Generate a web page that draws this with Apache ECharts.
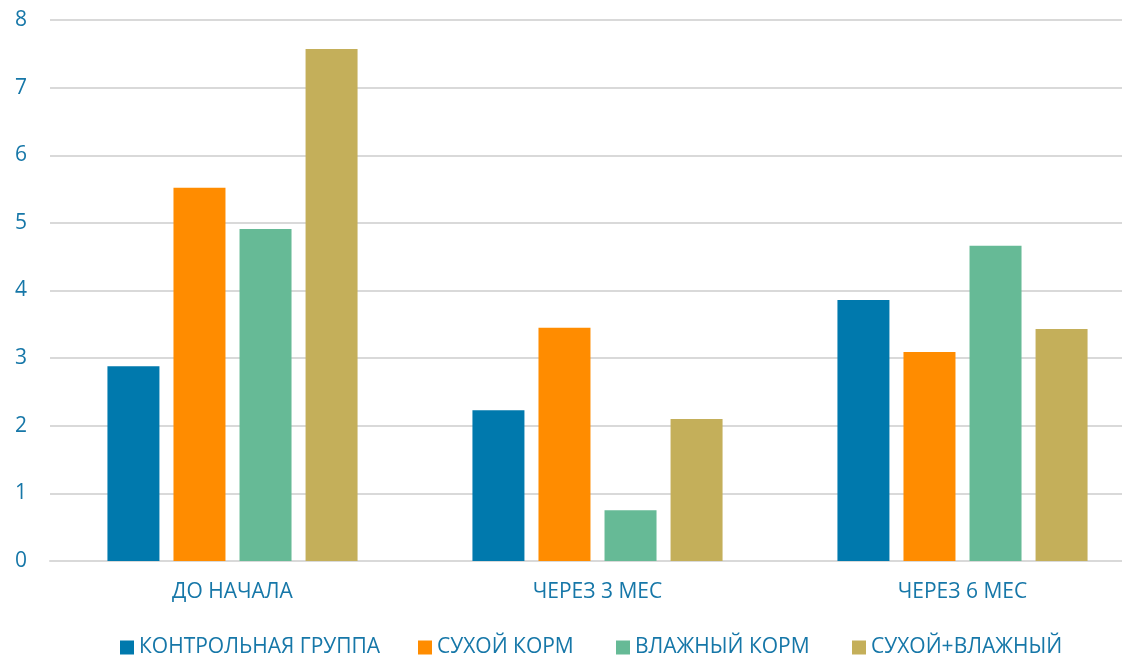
<!DOCTYPE html>
<html>
<head>
<meta charset="utf-8">
<script src="https://cdn.jsdelivr.net/npm/echarts@6/dist/echarts.min.js"></script>
<style>
  html, body { margin: 0; padding: 0; background: #fff; overflow: hidden; }
  /* the plot area runs on past the right edge of the window */
  #chart { width: 1145px; height: 655px; }
</style>
</head>
<body>
<div id="chart"></div>
<script>
// Periods along the x axis
const categories = ['ДО НАЧАЛА', 'ЧЕРЕЗ 3 МЕС', 'ЧЕРЕЗ 6 МЕС'];

// One array per feeding group
const seriesNames = ['КОНТРОЛЬНАЯ ГРУППА', 'СУХОЙ КОРМ', 'ВЛАЖНЫЙ КОРМ', 'СУХОЙ+ВЛАЖНЫЙ'];
const controlGroup = [2.88, 2.23, 3.86];
const dryFood      = [5.52, 3.45, 3.09];
const wetFood      = [4.91, 0.75, 4.66];
const dryAndWet    = [7.57, 2.10, 3.43];

const seriesColors = ['#0079AD', '#FF8C00', '#66BA96', '#C4AF5A'];
const textColor = '#1677A8';
const fontFamily = '"Open Sans", "Noto Sans", sans-serif';

const values = [controlGroup, dryFood, wetFood, dryAndWet];

// left edge of each legend entry along the bottom row
const legendLefts = [120, 418, 616, 852];

const chart = echarts.init(document.getElementById('chart'), null, { renderer: 'canvas' });

chart.setOption({
  animation: false,
  backgroundColor: '#ffffff',
  textStyle: { fontFamily: fontFamily },
  grid: { left: 50, top: 20, bottom: 94, right: 0, containLabel: false },
  legend: seriesNames.map((name, i) => ({
    top: 637,
    left: legendLefts[i],
    padding: 0,
    itemWidth: 14,
    itemHeight: 14,
    icon: 'rect',
    textStyle: { color: textColor, fontSize: 21, fontFamily: fontFamily, padding: [0, 0, 0, 0] },
    data: [name]
  })),
  xAxis: {
    type: 'category',
    data: categories,
    axisLine: { show: true, lineStyle: { color: '#d9d9d9', width: 2 } },
    axisTick: { show: false },
    axisLabel: { color: textColor, fontSize: 21, margin: 21, fontFamily: fontFamily }
  },
  yAxis: {
    type: 'value',
    min: 0,
    max: 8,
    interval: 1,
    axisLine: { show: false },
    axisTick: { show: false },
    splitLine: { lineStyle: { color: '#d9d9d9', width: 2 } },
    axisLabel: { color: textColor, fontSize: 21, margin: 23, fontFamily: fontFamily }
  },
  series: seriesNames.map((name, i) => ({
    name: name,
    type: 'bar',
    data: values[i],
    barWidth: 52,
    barGap: '27%',
    itemStyle: { color: seriesColors[i] }
  }))
});
</script>
</body>
</html>
